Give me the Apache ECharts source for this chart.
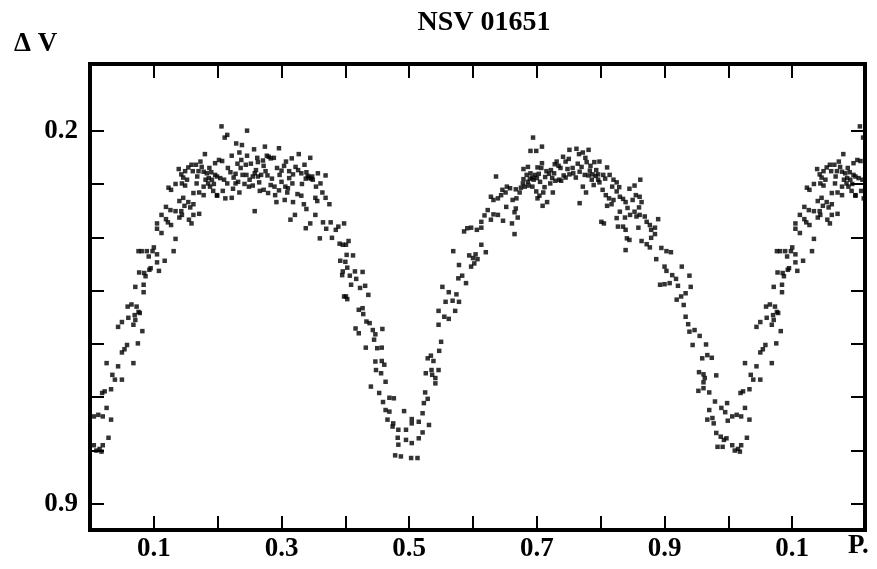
<!DOCTYPE html>
<html><head><meta charset="utf-8">
<script src="https://cdn.jsdelivr.net/npm/echarts@6/dist/echarts.min.js"></script>
<style>html,body{margin:0;padding:0;background:#fff}#c{width:877px;height:569px}</style>
</head><body><div id="c"></div>
<script>
const riseA = [
[0.006,0.79],[0.015,0.797],[0.02,0.79],[0.01,0.80],[0.018,0.802],[0.029,0.776],
[0.02,0.736],[0.026,0.72],[0.033,0.742],[0.013,0.733],[0.006,0.736],
[0.019,0.692],[0.023,0.689],[0.033,0.685],
[0.035,0.658],[0.039,0.667],[0.05,0.667],[0.044,0.642],[0.026,0.636],[0.068,0.636],[0.075,0.599],[0.058,0.602],[0.05,0.616],[0.054,0.61],
[0.044,0.568],[0.05,0.559],[0.06,0.551],[0.068,0.564],[0.071,0.555],[0.082,0.576],[0.059,0.53],[0.065,0.526],[0.073,0.53],[0.076,0.54],[0.078,0.542],[0.07,0.546],
[0.071,0.493],[0.084,0.489],[0.084,0.503],[0.077,0.466],[0.085,0.467],[0.087,0.473],[0.093,0.461],[0.095,0.458],[0.108,0.463],[0.117,0.444],[0.105,0.432],[0.105,0.447],[0.092,0.436],[0.089,0.426],[0.076,0.426],[0.081,0.426],[0.098,0.426],[0.1,0.419],[0.131,0.426],[0.134,0.403],
[0.105,0.374],[0.105,0.384],[0.112,0.392],[0.112,0.358],[0.119,0.366],[0.122,0.372],[0.127,0.377],[0.119,0.343],[0.126,0.349],[0.134,0.351],[0.14,0.363],[0.144,0.358],[0.143,0.351],[0.148,0.341],[0.154,0.334],[0.157,0.344],[0.159,0.374],[0.155,0.367],[0.162,0.358],[0.171,0.356],[0.14,0.332],[0.146,0.326],[0.162,0.338],
[0.127,0.311],[0.123,0.307],[0.134,0.3],[0.144,0.299],[0.149,0.303],[0.152,0.292],[0.146,0.288],[0.143,0.282],[0.139,0.272],[0.149,0.276],[0.154,0.269],[0.159,0.264],[0.166,0.264],[0.173,0.258],[0.18,0.244],[0.161,0.276],[0.17,0.276],[0.178,0.277],[0.183,0.28],[0.167,0.299],[0.162,0.317],[0.171,0.316],[0.178,0.321],[0.178,0.305],[0.185,0.299],[0.188,0.305],[0.193,0.313],[0.196,0.283],[0.196,0.261],[0.186,0.289],[0.191,0.292],[0.199,0.321],
[0.175,0.268],[0.187,0.27],[0.19,0.278],[0.168,0.286],[0.181,0.292],[0.194,0.3]
];
const maxA = [
[0.206,0.192],[0.215,0.208],[0.211,0.213],[0.246,0.2],[0.229,0.224],[0.238,0.227],[0.222,0.247],[0.234,0.241],[0.246,0.247],[0.257,0.235],[0.274,0.23],[0.296,0.233],
[0.202,0.255],[0.207,0.257],[0.237,0.255],[0.262,0.251],[0.263,0.259],[0.28,0.249],[0.288,0.251],[0.316,0.252],[0.327,0.244],[0.345,0.251],[0.307,0.258],[0.304,0.266],
[0.199,0.286],[0.204,0.289],[0.21,0.292],[0.215,0.299],[0.22,0.278],[0.225,0.288],[0.232,0.296],[0.236,0.27],[0.244,0.264],[0.245,0.283],[0.25,0.292],[0.255,0.286],[0.26,0.274],[0.263,0.286],[0.272,0.266],[0.275,0.276],[0.278,0.284],[0.293,0.27],[0.297,0.283],[0.3,0.296],[0.306,0.305],[0.312,0.289],[0.317,0.299],[0.322,0.268],[0.326,0.274],[0.331,0.28],[0.336,0.264],[0.339,0.278],[0.343,0.288],[0.348,0.286],[0.349,0.292],[0.361,0.299],[0.369,0.284],[0.364,0.316],[0.369,0.326],[0.375,0.338],[0.353,0.326],[0.356,0.332],[0.325,0.319],[0.331,0.322],[0.335,0.338],[0.339,0.347],[0.318,0.334],[0.309,0.316],[0.292,0.334],[0.258,0.351],[0.272,0.311],[0.279,0.317],[0.283,0.302],[0.266,0.313],[0.255,0.303],[0.249,0.305],[0.234,0.316],[0.224,0.309],[0.212,0.327],[0.222,0.326],[0.199,0.322],[0.208,0.313],[0.228,0.299],[0.29,0.321],[0.305,0.33],[0.31,0.308],
[0.277,0.247],[0.283,0.252],[0.271,0.256],[0.341,0.285],[0.346,0.29],[0.338,0.29],[0.239,0.283],[0.228,0.281],[0.258,0.28],[0.268,0.283],[0.285,0.29],[0.3,0.275],[0.312,0.276],[0.318,0.282],[0.242,0.3],[0.265,0.297],[0.289,0.305],[0.296,0.312],[0.216,0.27],[0.231,0.262],[0.252,0.262],[0.332,0.3],[0.354,0.305],[0.357,0.28],
[0.314,0.367],[0.321,0.358],[0.338,0.383],[0.345,0.374],[0.353,0.358],[0.36,0.402],[0.365,0.372],[0.37,0.384],[0.377,0.372],[0.379,0.401],[0.385,0.386],[0.389,0.38],[0.391,0.412],[0.396,0.414],[0.392,0.444],[0.395,0.471],[0.398,0.511]
];
const fallA = [
[0.398,0.374],[0.405,0.407],[0.401,0.414],[0.402,0.433],[0.412,0.434],[0.4,0.446],[0.403,0.457],[0.396,0.464],[0.407,0.472],[0.415,0.464],[0.417,0.478],[0.427,0.465],[0.409,0.489],[0.423,0.495],[0.431,0.491],[0.436,0.508],[0.401,0.511],[0.403,0.516],
[0.421,0.536],[0.427,0.533],[0.428,0.544],[0.433,0.558],[0.438,0.561],[0.416,0.571],[0.421,0.58],[0.443,0.574],[0.447,0.582],[0.458,0.572],[0.445,0.592],[0.45,0.608],[0.457,0.607],[0.432,0.607],
[0.447,0.633],[0.457,0.632],[0.461,0.639],[0.448,0.649],[0.456,0.655],[0.463,0.671],[0.44,0.68],[0.453,0.692],[0.459,0.709],[0.469,0.701],[0.476,0.702],[0.463,0.724],[0.469,0.727],[0.466,0.742],[0.475,0.749],[0.474,0.755],[0.483,0.761],[0.495,0.761],[0.492,0.726],[0.504,0.741],[0.504,0.749],[0.515,0.746],[0.521,0.73],[0.531,0.752],[0.482,0.776],[0.483,0.789],[0.495,0.78],[0.504,0.786],[0.515,0.777],[0.521,0.766],[0.478,0.809],[0.487,0.811],[0.503,0.814],[0.513,0.814]
];
const riseB = [
[0.525,0.691],[0.529,0.703],[0.523,0.711],[0.526,0.655],[0.535,0.649],[0.546,0.649],[0.541,0.664],[0.541,0.674],[0.536,0.658],[0.529,0.627],[0.534,0.622],[0.538,0.632],[0.547,0.613],[0.55,0.596],[0.546,0.564],[0.546,0.538],[0.555,0.549],[0.562,0.553],[0.552,0.493],[0.562,0.503],[0.568,0.519],[0.557,0.521],[0.574,0.507],[0.578,0.521],[0.572,0.538],[0.577,0.477],[0.583,0.472],[0.578,0.452],[0.589,0.486],[0.594,0.434],[0.597,0.455],[0.569,0.426],[0.586,0.389],[0.591,0.383],[0.597,0.382],
[0.602,0.449],[0.6,0.439],[0.607,0.441],[0.604,0.432],[0.613,0.414],[0.62,0.428],[0.606,0.386],[0.613,0.382],[0.613,0.371],[0.618,0.359],[0.623,0.349],[0.628,0.367],[0.632,0.357],[0.639,0.358],[0.647,0.369],[0.661,0.374],[0.665,0.394],[0.67,0.363],[0.665,0.353],[0.667,0.346],[0.652,0.343]
];
const maxB = [
[0.628,0.324],[0.632,0.33],[0.639,0.327],[0.644,0.321],[0.646,0.311],[0.651,0.316],[0.653,0.305],[0.658,0.308],[0.662,0.33],[0.668,0.327],[0.673,0.316],[0.675,0.307],[0.678,0.299],[0.679,0.291],[0.684,0.283],[0.69,0.28],[0.693,0.288],[0.686,0.296],[0.687,0.303],[0.695,0.292],[0.7,0.289],[0.705,0.296],[0.699,0.314],[0.704,0.322],[0.71,0.316],[0.701,0.327],[0.709,0.341],[0.716,0.334],[0.725,0.316],[0.721,0.299],[0.724,0.289],[0.722,0.274],[0.707,0.27],[0.708,0.261],[0.701,0.269],[0.715,0.276],[0.679,0.272],[0.686,0.268],[0.636,0.286],[0.69,0.238],[0.699,0.238],[0.708,0.23],[0.694,0.213],
[0.728,0.263],[0.731,0.258],[0.734,0.266],[0.737,0.27],[0.741,0.249],[0.745,0.258],[0.75,0.253],[0.751,0.236],[0.762,0.234],[0.766,0.244],[0.772,0.241],[0.776,0.251],[0.781,0.236],[0.778,0.259],[0.784,0.266],[0.79,0.259],[0.793,0.274],[0.751,0.282],[0.745,0.288],[0.735,0.292],[0.729,0.294],[0.761,0.288],[0.767,0.277],[0.775,0.283],[0.781,0.284],[0.787,0.282],[0.772,0.305],[0.777,0.316],[0.767,0.336],[0.789,0.302],[0.796,0.292],
[0.689,0.29],[0.697,0.283],[0.703,0.281],[0.713,0.287],[0.719,0.281],[0.738,0.294],[0.742,0.284],[0.757,0.28],[0.764,0.262],[0.77,0.268],[0.783,0.275],[0.792,0.285],[0.786,0.292],[0.756,0.27],[0.748,0.272],[0.727,0.28],[0.712,0.306],[0.693,0.305],[0.681,0.305],[0.667,0.31]
];
const fallB = [
[0.798,0.258],[0.81,0.269],[0.796,0.282],[0.804,0.283],[0.814,0.283],[0.82,0.292],[0.825,0.297],[0.798,0.297],[0.803,0.311],[0.808,0.321],[0.813,0.327],[0.817,0.338],[0.81,0.341],[0.825,0.314],[0.83,0.324],[0.835,0.328],[0.839,0.334],[0.845,0.309],[0.853,0.303],[0.862,0.292],[0.855,0.321],[0.861,0.324],[0.864,0.334],[0.86,0.344],[0.853,0.352],[0.861,0.358],[0.856,0.361],[0.846,0.358],[0.838,0.363],[0.83,0.352],[0.825,0.364],[0.801,0.371],[0.805,0.374],[0.827,0.38],[0.835,0.38],[0.839,0.386],[0.859,0.382],[0.869,0.361],[0.872,0.371],[0.877,0.377],[0.879,0.386],[0.885,0.382],[0.89,0.366],[0.885,0.394],[0.879,0.401],[0.872,0.413],[0.877,0.419],[0.864,0.407],[0.841,0.402],[0.845,0.405],[0.839,0.424],[0.895,0.42],[0.903,0.426],[0.91,0.428],[0.887,0.441],
[0.807,0.29],[0.818,0.305],[0.829,0.306],[0.842,0.345],[0.85,0.33],[0.82,0.33],
[0.9,0.455],[0.903,0.463],[0.927,0.455],[0.912,0.471],[0.918,0.478],[0.921,0.491],[0.893,0.489],[0.9,0.488],[0.908,0.486],[0.939,0.472],[0.941,0.493],[0.933,0.505],[0.926,0.511],[0.919,0.517],[0.93,0.527],[0.933,0.549],[0.937,0.563],[0.939,0.577],[0.947,0.574],[0.955,0.585],[0.944,0.602],[0.965,0.601],[0.959,0.627],[0.967,0.621],[0.974,0.626],[0.954,0.653],[0.961,0.657],[0.963,0.664],[0.981,0.659],[0.961,0.672],[0.953,0.688],[0.961,0.683],[0.97,0.691],[0.979,0.708],[0.97,0.724],[0.975,0.739],[0.967,0.742],[0.977,0.749],[0.989,0.72],[0.995,0.728],[0.999,0.744],[0.998,0.711],
[0.981,0.767],[0.988,0.774],[0.993,0.78],[0.997,0.777],[0.983,0.793],[0.991,0.793]
];

const xTickValues = [0.1,0.2,0.3,0.4,0.5,0.6,0.7,0.8,0.9,1.0,1.1];
const xLabelValues = [0.1,0.3,0.5,0.7,0.9,1.1];
const yTickValues = [0.2,0.3,0.4,0.5,0.6,0.7,0.8,0.9];
const yLabelValues = [0.2,0.9];
const titleText = 'NSV 01651';
const yName = 'Δ V';
const xName = 'P.';
const X_MIN = 0, X_MAX = 1.214, Y_MIN = 0.075, Y_MAX = 0.949;

const all = [].concat(riseA, maxA, fallA, riseB, maxB, fallB);
const pts = [];
all.forEach(p => {
  pts.push([p[0], p[1]]);
  if (p[0] + 1 <= X_MAX) pts.push([p[0] + 1, p[1]]); // phase repeated past 1.0
});

const FONT = "'Liberation Serif', 'DejaVu Serif', serif";
const labelStyle = {color:'#000', fontFamily:FONT, fontWeight:'bold', fontSize:27};
const tick = {show:true, inside:true, length:14, lineStyle:{color:'#000', width:2}};
const noLine = {show:false, onZero:false};

const chart = echarts.init(document.getElementById('c'), null, {renderer:'canvas'});
chart.setOption({
  animation:false,
  backgroundColor:'#fff',
  title:{text:titleText, left:479, textAlign:'center', top:4,
    textStyle:{color:'#000', fontFamily:FONT, fontWeight:'bold', fontSize:28}},
  graphic:[
    {type:'text', left:14, top:31, style:{text:yName, fill:'#000', font:"bold 27px 'Liberation Serif'"}},
    {type:'text', left:848, top:533, style:{text:xName, fill:'#000', font:"bold 27px 'Liberation Serif'"}}
  ],
  grid:{left:90, right:12, top:64, bottom:39, show:true, borderColor:'#000', borderWidth:4, backgroundColor:'transparent'},
  xAxis:[
    {type:'value', position:'bottom', min:X_MIN, max:X_MAX,
     axisLine:noLine, splitLine:{show:false},
     axisTick:Object.assign({customValues:xTickValues}, tick),
     axisLabel:Object.assign({customValues:xLabelValues, margin:6,
       formatter:v => (v > 1 ? v - 1 : v).toFixed(1)}, labelStyle)},
    {type:'value', position:'top', min:X_MIN, max:X_MAX,
     axisLine:noLine, splitLine:{show:false},
     axisTick:Object.assign({customValues:xTickValues}, tick),
     axisLabel:{show:false}}
  ],
  yAxis:[
    {type:'value', position:'left', inverse:true, min:Y_MIN, max:Y_MAX,
     axisLine:noLine, splitLine:{show:false},
     axisTick:Object.assign({customValues:yTickValues}, tick),
     axisLabel:Object.assign({customValues:yLabelValues, margin:12,
       formatter:v => v.toFixed(1)}, labelStyle)},
    {type:'value', position:'right', inverse:true, min:Y_MIN, max:Y_MAX,
     axisLine:noLine, splitLine:{show:false},
     axisTick:Object.assign({customValues:yTickValues}, tick),
     axisLabel:{show:false}}
  ],
  series:[{type:'scatter', xAxisIndex:0, yAxisIndex:0, data:pts, symbol:'rect', symbolSize:4.5,
    itemStyle:{color:'#000'}, silent:true, clip:true}]
});
</script></body></html>
